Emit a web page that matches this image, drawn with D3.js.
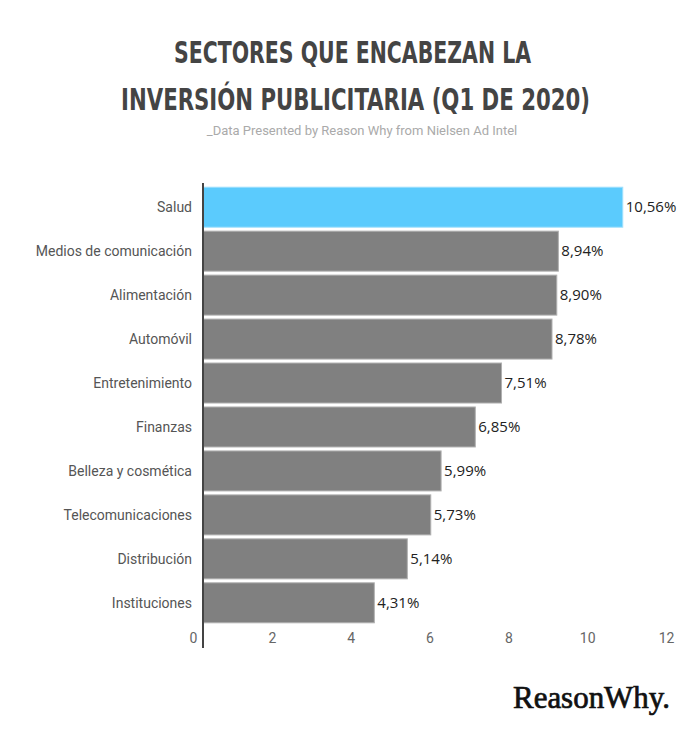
<!DOCTYPE html>
<html><head><meta charset="utf-8">
<script src="https://cdn.jsdelivr.net/npm/d3@7"></script>
<style>body{margin:0;background:#fff}</style>
</head><body>
<svg id="c" width="700" height="730"></svg>
<script>
const categories = ["Salud","Medios de comunicación","Alimentación","Automóvil","Entretenimiento","Finanzas","Belleza y cosmética","Telecomunicaciones","Distribución","Instituciones"];
const values = [10.56,8.94,8.90,8.78,7.51,6.85,5.99,5.73,5.14,4.31];
const valueLabels = ["10,56%","8,94%","8,90%","8,78%","7,51%","6,85%","5,99%","5,73%","5,14%","4,31%"];
const tickValues = [0,2,4,6,8,10,12];
const titleLines = ["SECTORES QUE ENCABEZAN LA","INVERSIÓN PUBLICITARIA (Q1 DE 2020)"];
const subtitle = "_Data Presented by Reason Why from Nielsen Ad Intel";

const svg = d3.select("#c");
const x = d3.scaleLinear().domain([0,12]).range([203,680]);
const y = d3.scaleBand().domain(categories).range([185,625]).paddingInner(0.09).paddingOuter(0.05);

const titleFont = "'DejaVu Sans Condensed','Liberation Sans Narrow',sans-serif";
const titleX = [352.5, 355.5], titleW = [357, 469];
svg.selectAll("text.title").data(titleLines).join("text")
  .attr("class","title")
  .attr("x",(d,i)=>titleX[i]).attr("y",(d,i)=>63+i*47)
  .attr("text-anchor","middle")
  .attr("font-family",titleFont).attr("font-weight","bold").attr("font-size",31)
  .attr("textLength",(d,i)=>titleW[i]).attr("lengthAdjust","spacingAndGlyphs")
  .attr("fill","#444").text(d=>d);

svg.append("text").attr("x",362).attr("y",135).attr("text-anchor","middle")
  .attr("font-family","Roboto, sans-serif").attr("font-size",13).attr("fill","#aaa")
  .text(subtitle);

svg.selectAll("rect.bar").data(values).join("rect")
  .attr("class","bar")
  .attr("x",x(0)).attr("y",(d,i)=>y(categories[i]))
  .attr("width",d=>x(d)-x(0)).attr("height",y.bandwidth())
  .attr("fill",(d,i)=>i===0?"#5BCBFD":"#808080")
  .attr("stroke",(d,i)=>i===0?"#9fe0fd":"#b0b0b0").attr("stroke-width",1);

svg.selectAll("text.cat").data(categories).join("text")
  .attr("class","cat")
  .attr("x",192).attr("y",d=>y(d)+y.bandwidth()/2).attr("dy","0.35em")
  .attr("text-anchor","end").attr("font-family","Roboto, sans-serif").attr("font-size",14)
  .attr("fill","#555").text(d=>d);

svg.selectAll("text.val").data(values).join("text")
  .attr("class","val")
  .attr("x",d=>x(d)+3).attr("y",(d,i)=>y(categories[i])+y.bandwidth()/2).attr("dy","0.35em")
  .attr("font-family","'Open Sans', sans-serif").attr("font-size",15)
  .attr("fill","#222").text((d,i)=>valueLabels[i]);

const axis = svg.append("g").attr("transform","translate(0,640)")
  .call(d3.axisBottom(x).tickValues(tickValues).tickSize(0).tickFormat(d=>d));
axis.select(".domain").remove();
axis.selectAll("text").attr("font-family","Roboto, sans-serif").attr("font-size",14)
  .attr("fill","#666").attr("dx",(d)=>-10-d*0.33).attr("dy","0");

svg.append("line").attr("x1",x(0)).attr("x2",x(0)).attr("y1",183).attr("y2",648)
  .attr("stroke","#444").attr("stroke-width",2);

svg.append("text").attr("x",513).attr("y",708)
  .attr("font-family","'Liberation Serif','DejaVu Serif',serif").attr("font-size",31)
  .attr("stroke","#111").attr("stroke-width",0.7)
  .attr("textLength",157).attr("lengthAdjust","spacingAndGlyphs")
  .attr("fill","#111").text("ReasonWhy.");
</script>
</body></html>
